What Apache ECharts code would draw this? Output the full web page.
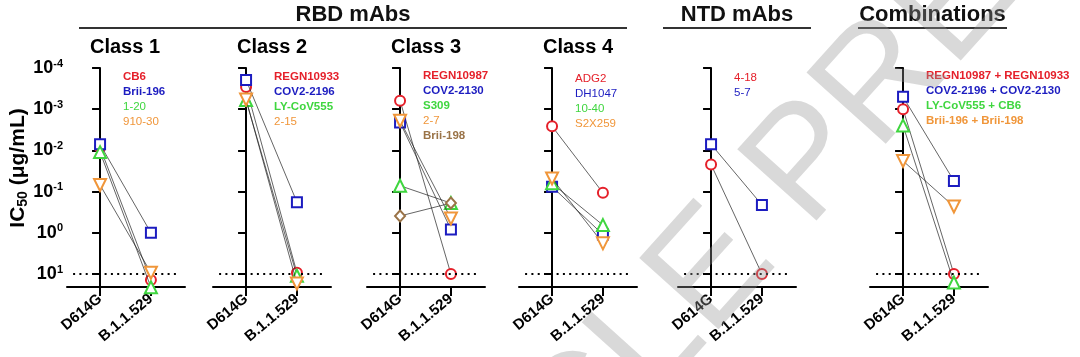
<!DOCTYPE html>
<html><head><meta charset="utf-8">
<script src="https://cdn.jsdelivr.net/npm/echarts@6/dist/echarts.min.js"></script>
<style>html,body{margin:0;padding:0;background:#fff}#c{width:1080px;height:357px}</style>
</head><body><div id="c"></div>
<script>
// ---------------- data ----------------
const categories = ['D614G', 'B.1.1.529'];
const yTickValues = [1e-4, 1e-3, 1e-2, 1e-1, 1, 10];
const detectionLimit = 10;
const groupHeaders = ['RBD mAbs', 'NTD mAbs', 'Combinations'];
const panelTitles = ['Class 1', 'Class 2', 'Class 3', 'Class 4', '', ''];
const watermarkText = 'ARTICLE PREVIEW';

const class1Names = ['CB6', 'Brii-196', '1-20', '910-30'];
const class1D614G = [0.0085, 0.0071, 0.011, 0.069];
const class1Omicron = [14, 1.0, 21, 9.3];

const class2Names = ['REGN10933', 'COV2-2196', 'LY-CoV555', '2-15'];
const class2D614G = [0.00029, 0.000195, 0.0006, 0.00058];
const class2Omicron = [9.3, 0.18, 11, 17];

const class3Names = ['REGN10987', 'COV2-2130', 'S309', '2-7', 'Brii-198'];
const class3D614G = [0.00062, 0.0021, 0.072, 0.0019, 0.39];
const class3Omicron = [10, 0.83, 0.19, 0.45, 0.19];

const class4Names = ['ADG2', 'DH1047', '10-40', 'S2X259'];
const class4D614G = [0.0026, 0.076, 0.063, 0.048];
const class4Omicron = [0.107, 1.1, 0.65, 1.8];

const ntdNames = ['4-18', '5-7'];
const ntdD614G = [0.022, 0.0071];
const ntdOmicron = [10, 0.21];

const comboNames = ['REGN10987 + REGN10933', 'COV2-2196 + COV2-2130', 'LY-CoV555 + CB6', 'Brii-196 + Brii-198'];
const comboD614G = [0.001, 0.0005, 0.0025, 0.018];
const comboOmicron = [10, 0.055, 16, 0.23];

// ---------------- layout / style ----------------
const FONT = '"Liberation Sans", Arial, Helvetica, sans-serif';
const RED = '#e5202a', BLUE = '#1c1cc0', GREEN = '#3fd63f', ORANGE = '#f0963a', BROWN = '#9a7347';
const markerStyles = [
  { symbol: 'emptyCircle', color: RED, size: 10, rotate: 0 },
  { symbol: 'emptyRect', color: BLUE, size: 10, rotate: 0 },
  { symbol: 'emptyTriangle', color: GREEN, size: 12, rotate: 0 },
  { symbol: 'emptyTriangle', color: ORANGE, size: 12, rotate: 180 },
  { symbol: 'emptyDiamond', color: BROWN, size: [10, 11], rotate: 0 }
];

const panels = [
  { names: class1Names, d: class1D614G, o: class1Omicron, left: 67, titleX: 125, legX: 123, legY: 78, bold: [1,1,0,0] },
  { names: class2Names, d: class2D614G, o: class2Omicron, left: 213, titleX: 272, legX: 274, legY: 78, bold: [1,1,1,0] },
  { names: class3Names, d: class3D614G, o: class3Omicron, left: 367, titleX: 426, legX: 423, legY: 77, bold: [1,1,1,0,1] },
  { names: class4Names, d: class4D614G, o: class4Omicron, left: 519, titleX: 578, legX: 575, legY: 80, bold: [0,0,0,0] },
  { names: ntdNames, d: ntdD614G, o: ntdOmicron, left: 678, titleX: 737, legX: 734, legY: 79, bold: [0,0] },
  { names: comboNames, d: comboD614G, o: comboOmicron, left: 870, titleX: 930, legX: 926, legY: 77, bold: [1,1,1,1] }
];
const GRID_TOP = 68, GRID_H = 219, GRID_W = 118;
const X_MIN = -0.65, X_MAX = 1.67;
const Y_MIN = 1e-4, Y_MAX = 20.65;

const grids = [], xAxes = [], yAxes = [], series = [], graphics = [];

panels.forEach((p, pi) => {
  grids.push({ left: p.left, top: GRID_TOP, width: GRID_W, height: GRID_H, containLabel: false });
  xAxes.push({
    type: 'value', gridIndex: pi, min: X_MIN, max: X_MAX,
    axisLine: { show: true, lineStyle: { color: '#000', width: 2 } },
    axisTick: { show: true, length: 9, lineStyle: { color: '#000', width: 2 }, customValues: [0, 1] },
    axisLabel: {
      show: true, customValues: [0, 1], rotate: 40, margin: 10,
      fontFamily: FONT, fontSize: 15, fontWeight: 'bold', color: '#000',
      formatter: v => categories[Math.round(v)]
    },
    splitLine: { show: false }
  });
  yAxes.push({
    type: 'log', gridIndex: pi, inverse: true, min: Y_MIN, max: Y_MAX, logBase: 10,
    axisLine: { show: true, lineStyle: { color: '#000', width: 2 } },
    axisTick: { show: true, length: 8, lineStyle: { color: '#000', width: 2 }, customValues: yTickValues },
    axisLabel: {
      show: pi === 0, customValues: yTickValues, margin: 4,
      formatter: v => '{b|10}{s|' + Math.round(Math.log10(v)) + '}',
      rich: {
        b: { fontFamily: FONT, fontSize: 18, fontWeight: 'bold', color: '#000', lineHeight: 20 },
        s: { fontFamily: FONT, fontSize: 11, fontWeight: 'bold', color: '#000', lineHeight: 10, verticalAlign: 'top' }
      }
    },
    splitLine: { show: false }
  });
  // detection limit dotted line
  series.push({
    type: 'line', xAxisIndex: pi, yAxisIndex: pi, data: [], silent: true,
    markLine: {
      silent: true, symbol: 'none', label: { show: false }, animation: false,
      lineStyle: { color: '#000', width: 2, type: [2, 4.3] },
      data: [[{ coord: [-0.53, detectionLimit] }, { coord: [1.55, detectionLimit] }]]
    }
  });
  p.names.forEach((name, i) => {
    const m = markerStyles[i];
    series.push({
      type: 'line', name: name, xAxisIndex: pi, yAxisIndex: pi, clip: false, silent: true,
      data: [[0, p.d[i]], [1, p.o[i]]],
      symbol: m.symbol, symbolSize: m.size, symbolRotate: m.rotate, showSymbol: true,
      itemStyle: { color: m.color, borderColor: m.color, borderWidth: 2.2 },
      lineStyle: { color: '#222', width: 0.7 },
      z: 3 + i
    });
    graphics.push({
      type: 'text', left: p.legX, top: p.legY + i * 15 - 7, z: 10,
      style: { text: name, fill: m.color, font: (p.bold[i] ? 'bold ' : '') + '11.5px ' + FONT }
    });
  });
  if (panelTitles[pi]) {
    graphics.push({
      type: 'text', x: p.titleX, y: 47, z: 10,
      style: { text: panelTitles[pi], fill: '#000', font: 'bold 20px ' + FONT, align: 'center', verticalAlign: 'middle' }
    });
  }
});

// group headers and their underlines
const headerDefs = [
  { x1: 79, x2: 627 }, { x1: 663, x2: 811 }, { x1: 858, x2: 1007 }
];
groupHeaders.forEach((h, i) => {
  const d = headerDefs[i];
  graphics.push({
    type: 'text', x: (d.x1 + d.x2) / 2, y: 15, z: 10,
    style: { text: h, fill: '#111', font: 'bold 22px ' + FONT, align: 'center', verticalAlign: 'middle' }
  });
  graphics.push({
    type: 'line', z: 10, shape: { x1: d.x1, y1: 28, x2: d.x2, y2: 28 },
    style: { stroke: '#333', lineWidth: 2 }
  });
});

// y axis title
graphics.push({
  type: 'text', x: 18, y: 168, rotation: Math.PI / 2, z: 10,
  style: {
    text: '{a|IC}{c|50}{a| (μg/mL)}', align: 'center', verticalAlign: 'middle',
    rich: {
      a: { fontFamily: FONT, fontSize: 21, fontWeight: 'bold', fill: '#000', lineHeight: 24 },
      c: { fontFamily: FONT, fontSize: 14, fontWeight: 'bold', fill: '#000', lineHeight: 14, verticalAlign: 'bottom' }
    }
  }
});

// watermark
graphics.push({
  type: 'text', x: 783, y: 194, rotation: 48 * Math.PI / 180, z: 100,
  style: { text: watermarkText, fill: 'rgba(150,150,150,0.36)', font: '155px ' + FONT, align: 'center', verticalAlign: 'middle' }
});

const chart = echarts.init(document.getElementById('c'), null, { renderer: 'canvas' });
chart.setOption({
  animation: false,
  backgroundColor: '#fff',
  grid: grids, xAxis: xAxes, yAxis: yAxes, series: series, graphic: graphics
});
</script></body></html>
